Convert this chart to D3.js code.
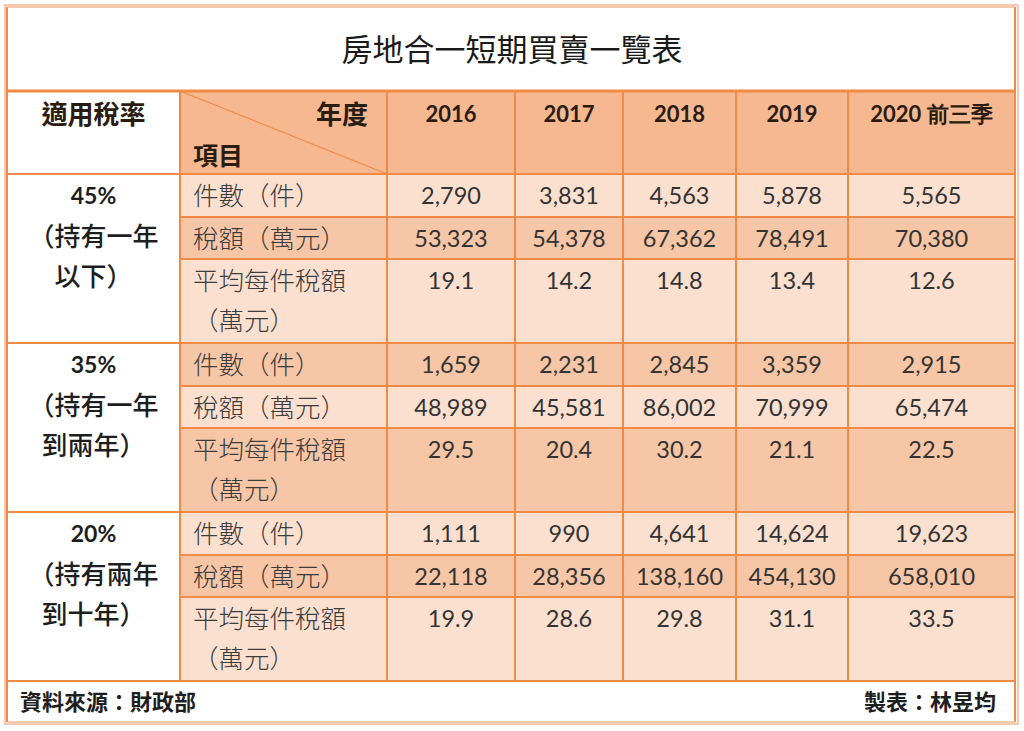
<!DOCTYPE html>
<html>
<head>
<meta charset="utf-8">
<script src="https://cdn.jsdelivr.net/npm/d3@7"></script>
<style>
  html, body { margin: 0; padding: 0; background: #fff; }
  svg { display: block; }
</style>
</head>
<body>
<div id="chart"></div>
<script>
// data
var title = "房地合一短期買賣一覽表";
var years = ["2016", "2017", "2018", "2019", "2020 前三季"];
var rates = ["45%", "35%", "20%"];
var rateNotes = [["（持有一年", "以下）"], ["（持有一年", "到兩年）"], ["（持有兩年", "到十年）"]];
var items = [["件數（件）"], ["稅額（萬元）"], ["平均每件稅額", "（萬元）"]];
var counts45 = [2790, 3831, 4563, 5878, 5565];
var tax45 = [53323, 54378, 67362, 78491, 70380];
var avg45 = [19.1, 14.2, 14.8, 13.4, 12.6];
var counts35 = [1659, 2231, 2845, 3359, 2915];
var tax35 = [48989, 45581, 86002, 70999, 65474];
var avg35 = [29.5, 20.4, 30.2, 21.1, 22.5];
var counts20 = [1111, 990, 4641, 14624, 19623];
var tax20 = [22118, 28356, 138160, 454130, 658010];
var avg20 = [19.9, 28.6, 29.8, 31.1, 33.5];
var source = "資料來源：財政部";
var author = "製表：林昱均";

var groups = [
	[counts45, tax45, avg45],
	[counts35, tax35, avg35],
	[counts20, tax20, avg20]
];

// layout
var w = 1024, h = 731;
var colEdges = [7, 180, 387, 515, 623, 736, 848, 1015];
var titleTop = 7, headTop = 91, headBottom = 174, footBottom = 722;
var rowH = [43, 42, 84]; // count, tax, avg row heights
var lineColor = "#f08a45";
var headFill = "#f5b890";
var darkFill = "#f7c6a6";
var lightFill = "#fbe0d0";
var cjk = "'Noto Sans CJK TC', 'Noto Sans CJK SC', sans-serif";
var numFont = "Lato, 'Open Sans', sans-serif";

var fmtInt = d3.format(",");
var fmtAvg = d3.format(".1f");

// row edges built from heights
var rowEdges = [headBottom];
groups.forEach(function() {
	rowH.forEach(function(rh) { rowEdges.push(rowEdges[rowEdges.length - 1] + rh); });
});
var footTop = rowEdges[rowEdges.length - 1];

var x = d3.scaleOrdinal().domain(d3.range(colEdges.length)).range(colEdges);
var y = d3.scaleOrdinal().domain(d3.range(rowEdges.length)).range(rowEdges);

var svg = d3.select("#chart").append("svg")
	.attr("width", w)
	.attr("height", h);

// outer frame
svg.append("rect")
	.attr("x", 5).attr("y", 5)
	.attr("width", 1013).attr("height", 719)
	.attr("fill", "#fff")
	.attr("stroke", "#f4b894")
	.attr("stroke-width", 1.5);

// header fill
svg.append("rect")
	.attr("x", x(1)).attr("y", headTop)
	.attr("width", x(7) - x(1)).attr("height", headBottom - headTop)
	.attr("fill", headFill);

// body rows
var cells = [];
groups.forEach(function(g, gi) {
	g.forEach(function(series, ri) {
		var r = gi * 3 + ri;
		cells.push({ r: r, ri: ri, gi: gi, series: series });
	});
});

svg.selectAll("rect.row")
	.data(cells)
	.enter()
	.append("rect")
	.attr("class", "row")
	.attr("x", x(1))
	.attr("y", d => y(d.r))
	.attr("width", x(7) - x(1))
	.attr("height", d => y(d.r + 1) - y(d.r))
	.attr("fill", d => d.r % 2 === 0 ? lightFill : darkFill);

// grid lines
var grid = svg.append("g")
	.attr("stroke", lineColor)
	.attr("stroke-width", 2);

// horizontal lines across the item / value columns
grid.selectAll("line.h")
	.data(rowEdges)
	.enter()
	.append("line")
	.attr("x1", (d, i) => (i % 3 === 0) ? colEdges[0] : colEdges[1])
	.attr("x2", colEdges[7])
	.attr("y1", d => d)
	.attr("y2", d => d);

grid.append("line")
	.attr("x1", colEdges[0]).attr("x2", colEdges[7])
	.attr("y1", headTop).attr("y2", headTop)
	.attr("stroke-width", 3);

// vertical lines
grid.selectAll("line.v")
	.data(colEdges)
	.enter()
	.append("line")
	.attr("x1", d => d).attr("x2", d => d)
	.attr("y1", (d, i) => (i === 0 || i === 7) ? titleTop : headTop)
	.attr("y2", (d, i) => (i === 0 || i === 7) ? footBottom : footTop);

grid.append("line")
	.attr("x1", colEdges[0]).attr("x2", colEdges[7])
	.attr("y1", titleTop).attr("y2", titleTop)
	.attr("stroke", "#f4b894").attr("stroke-width", 1.5);
grid.append("line")
	.attr("x1", colEdges[0]).attr("x2", colEdges[7])
	.attr("y1", footBottom).attr("y2", footBottom)
	.attr("stroke", "#f4b894").attr("stroke-width", 1.5);

// diagonal in header corner
grid.append("line")
	.attr("x1", x(1)).attr("y1", headTop)
	.attr("x2", x(2)).attr("y2", headBottom)
	.attr("stroke-width", 1.2);

// title
svg.append("text")
	.attr("x", w / 2)
	.attr("y", 61)
	.attr("text-anchor", "middle")
	.style("font-family", cjk)
	.style("font-size", "31px")
	.attr("fill", "#1a1a1a")
	.text(title);

// header texts
var head = svg.append("g")
	.style("font-family", cjk)
	.style("font-weight", "bold")
	.attr("fill", "#2b1c12");

head.append("text")
	.attr("x", (x(0) + x(1)) / 2).attr("y", 124)
	.attr("text-anchor", "middle")
	.style("font-size", "26px")
	.text("適用稅率");
head.append("text")
	.attr("x", 368).attr("y", 124)
	.attr("text-anchor", "end")
	.style("font-size", "26px")
	.text("年度");
head.append("text")
	.attr("x", 193).attr("y", 165)
	.style("font-size", "25px")
	.text("項目");

head.selectAll("text.year")
	.data(years)
	.enter()
	.append("text")
	.attr("class", "year")
	.attr("x", (d, i) => (x(i + 2) + x(i + 3)) / 2)
	.attr("y", 122)
	.attr("text-anchor", "middle")
	.style("font-family", numFont)
	.style("font-size", "22px")
	.text(d => d);

// rate column
var rateG = svg.selectAll("g.rate")
	.data(rates)
	.enter()
	.append("g")
	.attr("class", "rate")
	.attr("transform", (d, i) => "translate(" + ((x(0) + x(1)) / 2) + "," + y(i * 3) + ")")
	.attr("text-anchor", "middle")
	.attr("fill", "#1e1e1e");

rateG.append("text")
	.attr("y", 30)
	.style("font-family", numFont)
	.style("font-weight", "bold")
	.style("font-size", "23px")
	.text(d => d);

rateG.selectAll("text.note")
	.data((d, i) => rateNotes[i])
	.enter()
	.append("text")
	.attr("class", "note")
	.attr("y", (d, i) => 72 + i * 40)
	.style("font-family", cjk)
	.style("font-weight", "500")
	.style("font-size", "26px")
	.text(d => d);

// item labels
var itemG = svg.selectAll("g.item")
	.data(cells)
	.enter()
	.append("g")
	.attr("class", "item")
	.attr("transform", d => "translate(193," + y(d.r) + ")");

itemG.selectAll("text")
	.data(d => items[d.ri])
	.enter()
	.append("text")
	.attr("y", (d, i) => 31 + i * 40)
	.style("font-family", cjk)
	.style("font-size", "25.5px")
	.style("font-weight", "300")
	.attr("fill", "#3c3c3c")
	.text(d => d);

// values
var valG = svg.selectAll("g.vals")
	.data(cells)
	.enter()
	.append("g")
	.attr("class", "vals")
	.attr("transform", d => "translate(0," + y(d.r) + ")");

valG.selectAll("text")
	.data(d => d.series.map(v => ({ v: v, ri: d.ri })))
	.enter()
	.append("text")
	.attr("x", (d, i) => (x(i + 2) + x(i + 3)) / 2)
	.attr("y", 30)
	.attr("text-anchor", "middle")
	.style("font-family", numFont)
	.style("font-size", "23.5px")
	.attr("fill", "#333")
	.text(d => d.ri === 2 ? fmtAvg(d.v) : fmtInt(d.v));

// footer
svg.append("text")
	.attr("x", 20).attr("y", 710)
	.style("font-family", cjk)
	.style("font-weight", "bold")
	.style("font-size", "22px")
	.attr("fill", "#1e1e1e")
	.text(source);
svg.append("text")
	.attr("x", 996).attr("y", 710)
	.attr("text-anchor", "end")
	.style("font-family", cjk)
	.style("font-weight", "bold")
	.style("font-size", "22px")
	.attr("fill", "#1e1e1e")
	.text(author);
</script>
</body>
</html>
